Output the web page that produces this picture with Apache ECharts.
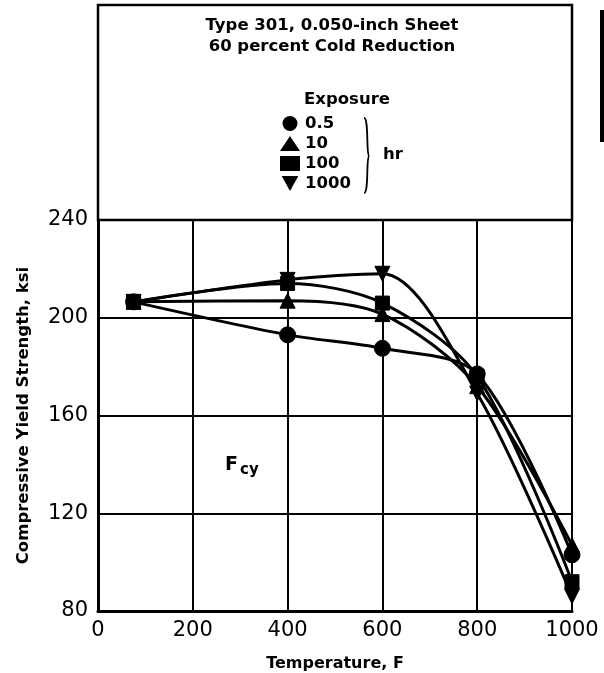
<!DOCTYPE html>
<html>
<head>
<meta charset="utf-8">
<script src="https://cdn.jsdelivr.net/npm/echarts@6/dist/echarts.min.js"></script>
<style>
html,body{margin:0;padding:0;background:#fff;}
#chart{width:604px;height:673px;}
</style>
</head>
<body>
<div id="chart"></div>
<script>
// ---- data ----
var temperatures = [75, 400, 600, 800, 1000];
var exposureNames = ['0.5', '10', '100', '1000'];
var fcy_05hr   = [206.5, 193, 187.5, 177, 103];
var fcy_10hr   = [206.5, 207, 201.5, 172, 107];
var fcy_100hr  = [206.5, 214, 206, 176, 92];
var fcy_1000hr = [206.5, 215.5, 218, 169, 86];
var xTicks = [0, 200, 400, 600, 800, 1000];
var yTicks = [80, 120, 160, 200, 240];

var FONT = 'DejaVu Sans';
var invTri = 'path://M0,0 L10,0 L5,9 Z';

function pairs(ys) { return temperatures.map(function (t, i) { return [t, ys[i]]; }); }

function mkSeries(name, ys, symbol, size, rotate) {
  return {
    name: name, type: 'line', data: pairs(ys), smooth: 0.3,
    symbol: symbol, symbolSize: size, symbolRotate: rotate || 0,
    lineStyle: { color: '#000', width: 3 },
    itemStyle: { color: '#000', borderColor: '#000' },
    emphasis: { disabled: true }, z: 5
  };
}

var chart = echarts.init(document.getElementById('chart'), null, { renderer: 'canvas' });
var option = {
  animation: false,
  backgroundColor: '#fff',
  grid: { left: 98, right: 32, top: 220, bottom: 62, containLabel: false, outerBoundsMode: 'none' },
  xAxis: {
    type: 'value', min: 0, max: 1000, interval: 200,
    name: 'Temperature, F', nameLocation: 'middle', nameGap: 45,
    nameTextStyle: { fontFamily: FONT, fontSize: 16, fontWeight: 'bold', color: '#000' },
    axisLine: { show: true, lineStyle: { color: '#000', width: 3 } },
    axisTick: { show: false },
    axisLabel: { fontFamily: FONT, fontSize: 21, color: '#000', margin: 9,
      formatter: function (v) { return xTicks.indexOf(v) >= 0 ? String(v) : ''; } },
    splitLine: { show: true, lineStyle: { color: '#000', width: 2 } }
  },
  yAxis: {
    type: 'value', min: 80, max: 240, interval: 40,
    name: 'Compressive Yield Strength, ksi', nameLocation: 'middle', nameGap: 66,
    nameTextStyle: { fontFamily: FONT, fontSize: 16.5, fontWeight: 'bold', color: '#000' },
    axisLine: { show: true, lineStyle: { color: '#000', width: 3 } },
    axisTick: { show: false },
    axisLabel: { fontFamily: FONT, fontSize: 21, color: '#000', margin: 10,
      formatter: function (v) { return yTicks.indexOf(v) >= 0 ? String(v) : ''; } },
    splitLine: { show: true, lineStyle: { color: '#000', width: 2 } }
  },
  legend: {
    orient: 'vertical', left: 275, top: 109,
    itemWidth: 20, itemHeight: 15, itemGap: 1,
    selectedMode: false,
    textStyle: { fontFamily: FONT, fontSize: 16.5, fontWeight: 'bold', color: '#000', lineHeight: 19 },
    data: [
      { name: exposureNames[0], icon: 'circle' },
      { name: exposureNames[1], icon: 'triangle' },
      { name: exposureNames[2], icon: 'rect' },
      { name: exposureNames[3], icon: invTri }
    ]
  },
  series: [
    mkSeries(exposureNames[0], fcy_05hr, 'circle', 16),
    mkSeries(exposureNames[1], fcy_10hr, 'triangle', 15),
    mkSeries(exposureNames[2], fcy_100hr, 'rect', 14),
    mkSeries(exposureNames[3], fcy_1000hr, 'triangle', 15, 180)
  ],
  graphic: [
    { type: 'rect', shape: { x: 98, y: 5, width: 474, height: 215 },
      style: { fill: 'none', stroke: '#000', lineWidth: 2.5 }, z: 1 },
    { type: 'rect', shape: { x: 600, y: 10, width: 4, height: 132 },
      style: { fill: '#000' } },
    { type: 'text', x: 332, y: 26,
      style: { text: 'Type 301, 0.050-inch Sheet', fontFamily: FONT, fontSize: 16.5, fontWeight: 'bold',
        fill: '#000', align: 'center', verticalAlign: 'middle' } },
    { type: 'text', x: 332, y: 47,
      style: { text: '60 percent Cold Reduction', fontFamily: FONT, fontSize: 16.5, fontWeight: 'bold',
        fill: '#000', align: 'center', verticalAlign: 'middle' } },
    { type: 'text', x: 347, y: 100,
      style: { text: 'Exposure', fontFamily: FONT, fontSize: 16.5, fontWeight: 'bold',
        fill: '#000', align: 'center', verticalAlign: 'middle' } },
    { type: 'bezierCurve', shape: { x1: 364, y1: 118, x2: 369, y2: 156, cpx1: 369, cpy1: 118, cpx2: 366, cpy2: 154 },
      style: { fill: 'none', stroke: '#000', lineWidth: 1.8 } },
    { type: 'bezierCurve', shape: { x1: 369, y1: 156, x2: 364, y2: 193, cpx1: 366, cpy1: 158, cpx2: 369, cpy2: 193 },
      style: { fill: 'none', stroke: '#000', lineWidth: 1.8 } },
    { type: 'text', x: 383, y: 155,
      style: { text: 'hr', fontFamily: FONT, fontSize: 16.5, fontWeight: 'bold',
        fill: '#000', align: 'left', verticalAlign: 'middle' } },
    { type: 'text', x: 225, y: 456,
      style: { text: 'F', fontFamily: FONT, fontSize: 19, fontWeight: 'bold',
        fill: '#000', align: 'left', verticalAlign: 'top' } },
    { type: 'text', x: 240, y: 463,
      style: { text: 'cy', fontFamily: FONT, fontSize: 15, fontWeight: 'bold',
        fill: '#000', align: 'left', verticalAlign: 'top' } }
  ]
};
chart.setOption(option);
</script>
</body>
</html>
